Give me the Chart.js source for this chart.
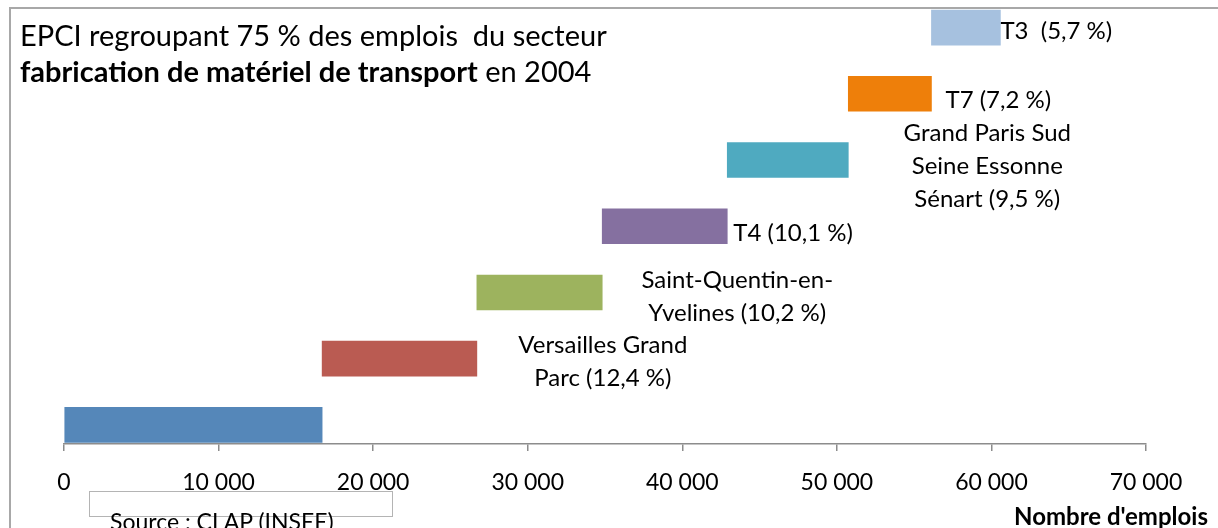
<!DOCTYPE html>
<html>
<head>
<meta charset="utf-8">
<script src="https://cdn.jsdelivr.net/npm/chart.js@4/dist/chart.umd.min.js"></script>
<style>
	html, body { margin: 0; padding: 0; background: #fff; }
	#wrap { position: relative; width: 1218px; height: 528px; overflow: hidden; font-family: Lato, sans-serif; }
	#frame { position: absolute; left: 9px; top: 7px; width: 1220px; height: 540px; border-left: 2px solid #a8a8a8; border-top: 2px solid #a8a8a8; }
	canvas { position: absolute; left: 0; top: 0; }
	.title { position: absolute; left: 20px; top: 17px; font-size: 29px; line-height: 36px; color: #000; white-space: pre; }
	.source { position: absolute; left: 89px; top: 491px; width: 302px; height: 24px; border: 1.5px solid #b4b4b4; }
	.source span { position: absolute; left: 20px; top: 15px; font-size: 23px; white-space: pre; }
	.xtitle { position: absolute; right: 10px; top: 501px; font-size: 24px; font-weight: bold; white-space: pre; }
</style>
</head>
<body>
<div id="wrap">
	<div id="frame"></div>
	<canvas id="chart" width="1218" height="528"></canvas>
	<div class="title">EPCI regroupant 75 % des emplois  du secteur
<b>fabrication de matériel de transport</b> en 2004</div>
	<div class="source"><span>Source : CLAP (INSEE)</span></div>
	<div class="xtitle">Nombre d'emplois</div>
</div>
<script>
// EPCI, de bas en haut
const categories = ['', 'Versailles Grand Parc', 'Saint-Quentin-en-Yvelines', 'T4', 'Grand Paris Sud Seine Essonne Sénart', 'T7', 'T3'];
const labelLines = [
	[],
	['Versailles Grand', 'Parc (12,4 %)'],
	['Saint-Quentin-en-', 'Yvelines (10,2 %)'],
	['T4 (10,1 %)'],
	['Grand Paris Sud', 'Seine Essonne', 'Sénart (9,5 %)'],
	['T7 (7,2 %)'],
	['T3  (5,7 %)']
];
// nombre d'emplois par EPCI
const emplois = [16700, 10010, 8110, 8090, 7830, 5380, 4460];
const xTicks = [0, 10000, 20000, 30000, 40000, 50000, 60000, 70000];
const colors = ['#5587b9', '#ba5b52', '#9db35e', '#8570a0', '#4faac0', '#ee7f0a', '#a6c1df'];

// placement of each label relative to the end of its bar
const labelPlace = [
	null,
	{dx: 126, dy: 3, align: 'center'},
	{dx: 135, dy: 4, align: 'center'},
	{dx: 6, dy: 7, align: 'left'},
	{dx: 139, dy: 6, align: 'center'},
	{dx: 14, dy: 6, align: 'left'},
	{dx: 0, dy: 4, align: 'left'}
];

let cum = 0;
const bars = emplois.map((v, i) => {
	const from = cum;
	cum += v;
	return {x: [from, cum], y: i};
});

const fmt = (v) => String(v).replace(/\B(?=(\d{3})+(?!\d))/g, ' ');

const labelPlugin = {
	id: 'barLabels',
	afterDatasetsDraw: function (chart) {
		const ctx = chart.ctx;
		const meta = chart.getDatasetMeta(0);
		ctx.save();
		ctx.font = '24px Lato, sans-serif';
		ctx.fillStyle = '#000';
		ctx.textBaseline = 'middle';
		meta.data.forEach((bar, i) => {
			const p = labelPlace[i];
			if (!p) return;
			const lines = labelLines[i];
			const lh = 33;
			const x = bar.x + p.dx;
			const y0 = bar.y + p.dy - (lines.length - 1) * lh / 2;
			ctx.textAlign = p.align;
			lines.forEach((t, k) => ctx.fillText(t, x, y0 + k * lh));
		});
		ctx.restore();
	}
};

new Chart(document.getElementById('chart'), {
	type: 'bar',
	data: {
		labels: categories,
		datasets: [{
			data: bars,
			backgroundColor: colors,
			borderWidth: 0,
			barThickness: 35
		}]
	},
	options: {
		indexAxis: 'y',
		responsive: false,
		animation: false,
		layout: {
			padding: {left: 64, right: 72, top: 0, bottom: 0}
		},
		plugins: {
			legend: {display: false},
			tooltip: {enabled: false}
		},
		scales: {
			x: {
				type: 'linear',
				min: 0,
				max: 70000,
				afterBuildTicks: (s) => { s.ticks = xTicks.map(v => ({value: v})); },
				afterFit: (s) => { s.height = 84; },
				grid: {drawOnChartArea: false, drawTicks: true, tickLength: 7, color: '#8c8c8c', lineWidth: 1.5},
				border: {display: true, color: '#8c8c8c', width: 1.5},
				ticks: {
					font: {family: 'Lato', size: 23},
					color: '#000',
					padding: 18,
					maxRotation: 0,
					callback: (v) => fmt(v)
				}
			},
			y: {
				type: 'linear',
				display: false,
				offset: false,
				min: -0.288,
				max: 6.416
			}
		}
	},
	plugins: [labelPlugin]
});
</script>
</body>
</html>
